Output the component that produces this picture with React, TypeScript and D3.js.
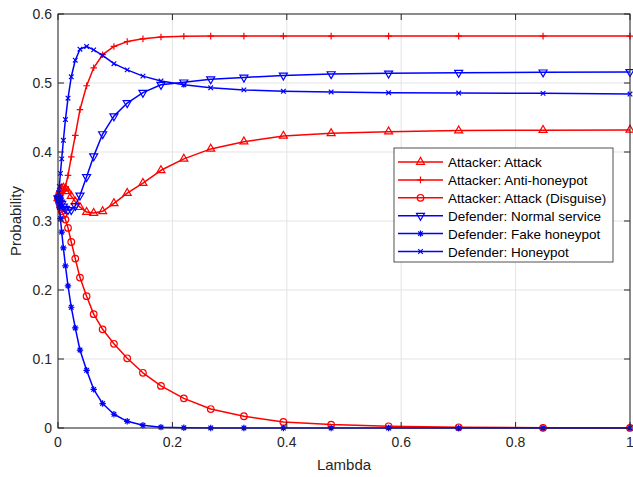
import React from "react";
import * as d3 from "d3";

const lambda = [0, 0.001, 0.0023, 0.0042, 0.0065, 0.0094, 0.013, 0.0175, 0.0232, 0.0302, 0.0384, 0.05, 0.0624, 0.078, 0.0978, 0.121, 0.1485, 0.18, 0.22, 0.267, 0.325, 0.394, 0.4775, 0.578, 0.7005, 0.848, 1];

const attack = [0.333, 0.337, 0.341, 0.345, 0.347, 0.348, 0.347, 0.343, 0.336, 0.328, 0.32, 0.313, 0.3115, 0.314, 0.3255, 0.3405, 0.355, 0.3735, 0.39, 0.4045, 0.415, 0.4233, 0.427, 0.4295, 0.431, 0.4317, 0.432];
const antiHoneypot = [0.333, 0.334, 0.335, 0.337, 0.34, 0.344, 0.35, 0.366, 0.393, 0.424, 0.4614, 0.496, 0.522, 0.541, 0.553, 0.56, 0.564, 0.5667, 0.5677, 0.568, 0.568, 0.568, 0.568, 0.568, 0.568, 0.568, 0.568];
const attackDisguise = [0.333, 0.33, 0.326, 0.32, 0.314, 0.309, 0.302, 0.29, 0.2696, 0.2455, 0.218, 0.191, 0.165, 0.143, 0.122, 0.101, 0.08, 0.061, 0.043, 0.0275, 0.017, 0.0087, 0.0049, 0.0025, 0.001, 0.0003, 0.0001];
const normalService = [0.333, 0.332, 0.33, 0.327, 0.325, 0.321, 0.318, 0.316, 0.316, 0.322, 0.337, 0.364, 0.394, 0.426, 0.452, 0.471, 0.486, 0.4975, 0.501, 0.5055, 0.508, 0.511, 0.513, 0.514, 0.515, 0.5155, 0.516];
const fakeHoneypot = [0.333, 0.327, 0.32, 0.3035, 0.284, 0.261, 0.235, 0.206, 0.175, 0.145, 0.113, 0.0836, 0.056, 0.0354, 0.0199, 0.0097, 0.0039, 0.0012, 0.0003, 0.0001, 0, 0, 0, 0, 0, 0, 0];
const honeypot = [0.333, 0.341, 0.35, 0.369, 0.39, 0.417, 0.447, 0.478, 0.509, 0.533, 0.549, 0.553, 0.548, 0.54, 0.528, 0.519, 0.51, 0.503, 0.4975, 0.493, 0.49, 0.488, 0.487, 0.486, 0.4855, 0.485, 0.484];

const seriesNames = ["Attacker: Attack", "Attacker: Anti-honeypot", "Attacker: Attack (Disguise)", "Defender: Normal service", "Defender: Fake honeypot", "Defender: Honeypot"];
const seriesValues = [attack, antiHoneypot, attackDisguise, normalService, fakeHoneypot, honeypot];
const seriesColors = ["#ff0000", "#ff0000", "#ff0000", "#0000ff", "#0000ff", "#0000ff"];
const seriesMarkers = ["triUp", "plus", "circle", "triDown", "star", "x"];

const xTicks = [0, 0.2, 0.4, 0.6, 0.8, 1];
const yTicks = [0, 0.1, 0.2, 0.3, 0.4, 0.5, 0.6];

const W = 633, H = 477;
const L = 58, R = 630, T = 14, B = 428;
const AX = "#262626";
const FONT = "'Liberation Sans', Arial, Helvetica, sans-serif";

function markerPath(kind: string): string {
  switch (kind) {
    case "triUp": return "M0,-4.6L4,2.3L-4,2.3Z";
    case "triDown": return "M0,4.6L4,-2.3L-4,-2.3Z";
    case "plus": return "M-3.3,0H3.3M0,-3.3V3.3";
    case "circle": return "M3.3,0A3.3,3.3,0,1,1,-3.3,0A3.3,3.3,0,1,1,3.3,0Z";
    case "star": return "M-3.2,0H3.2M0,-3.2V3.2M-2.3,-2.3L2.3,2.3M-2.3,2.3L2.3,-2.3";
    case "x": return "M-2.3,-2.3L2.3,2.3M-2.3,2.3L2.3,-2.3";
  }
  return "";
}

export default function App() {
  const x = d3.scaleLinear().domain([0, 1]).range([L, R]);
  const y = d3.scaleLinear().domain([0, 0.6]).range([B, T]);
  const line = d3.line<number>().x((_, i) => x(lambda[i])).y((d) => y(d));

  const legX = 394, legY = 148, legW = 219, legH = 114;
  const rowH = 17.9;

  return (
    <svg width={W} height={H} style={{ position: "absolute", left: 0, top: 0, background: "#fff" }} fontFamily={FONT}>
      <rect x={0} y={0} width={W} height={H} fill="#fff" />
      <rect x={L} y={T} width={R - L} height={B - T} fill="#fff" />
      {xTicks.map((t) => (
        <line key={"gx" + t} x1={x(t)} x2={x(t)} y1={T} y2={B} stroke="#e3e3e3" strokeWidth={1} />
      ))}
      {yTicks.map((t) => (
        <line key={"gy" + t} x1={L} x2={R} y1={y(t)} y2={y(t)} stroke="#e3e3e3" strokeWidth={1} />
      ))}
      {seriesValues.map((vals, si) => (
        <g key={"s" + si}>
          <path d={line(vals) || ""} fill="none" stroke={seriesColors[si]} strokeWidth={1.5} strokeLinejoin="round" />
          {vals.map((v, i) => (
            <path key={i} transform={`translate(${x(lambda[i])},${y(v)})`} d={markerPath(seriesMarkers[si])} fill="none" stroke={seriesColors[si]} strokeWidth={1.2} />
          ))}
        </g>
      ))}
      <rect x={L} y={T} width={R - L} height={B - T} fill="none" stroke={AX} strokeWidth={1} />
      {xTicks.map((t) => (
        <g key={"tx" + t}>
          <line x1={x(t)} x2={x(t)} y1={B} y2={B - 6} stroke={AX} />
          <line x1={x(t)} x2={x(t)} y1={T} y2={T + 6} stroke={AX} />
          <text x={x(t)} y={B + 19} textAnchor="middle" fontSize={14} fill={AX}>{String(t)}</text>
        </g>
      ))}
      {yTicks.map((t) => (
        <g key={"ty" + t}>
          <line x1={L} x2={L + 6} y1={y(t)} y2={y(t)} stroke={AX} />
          <line x1={R} x2={R - 6} y1={y(t)} y2={y(t)} stroke={AX} />
          <text x={L - 6} y={y(t) + 5} textAnchor="end" fontSize={14} fill={AX}>{String(t)}</text>
        </g>
      ))}
      <text x={(L + R) / 2} y={470} textAnchor="middle" fontSize={15} fill={AX}>Lambda</text>
      <text transform={`translate(21,${(T + B) / 2}) rotate(-90)`} textAnchor="middle" fontSize={15} fill={AX}>Probability</text>
      <rect x={legX} y={legY} width={legW} height={legH} fill="#fff" stroke={AX} strokeWidth={0.8} />
      {seriesNames.map((n, i) => {
        const cy = legY + 14 + i * rowH;
        return (
          <g key={"l" + i}>
            <line x1={legX + 4} x2={legX + 49} y1={cy} y2={cy} stroke={seriesColors[i]} strokeWidth={1.5} />
            <path transform={`translate(${legX + 26.5},${cy})`} d={markerPath(seriesMarkers[i])} fill="none" stroke={seriesColors[i]} strokeWidth={1.2} />
            <text x={legX + 54} y={cy + 5} fontSize={13.5} fill="#000">{n}</text>
          </g>
        );
      })}
    </svg>
  );
}
